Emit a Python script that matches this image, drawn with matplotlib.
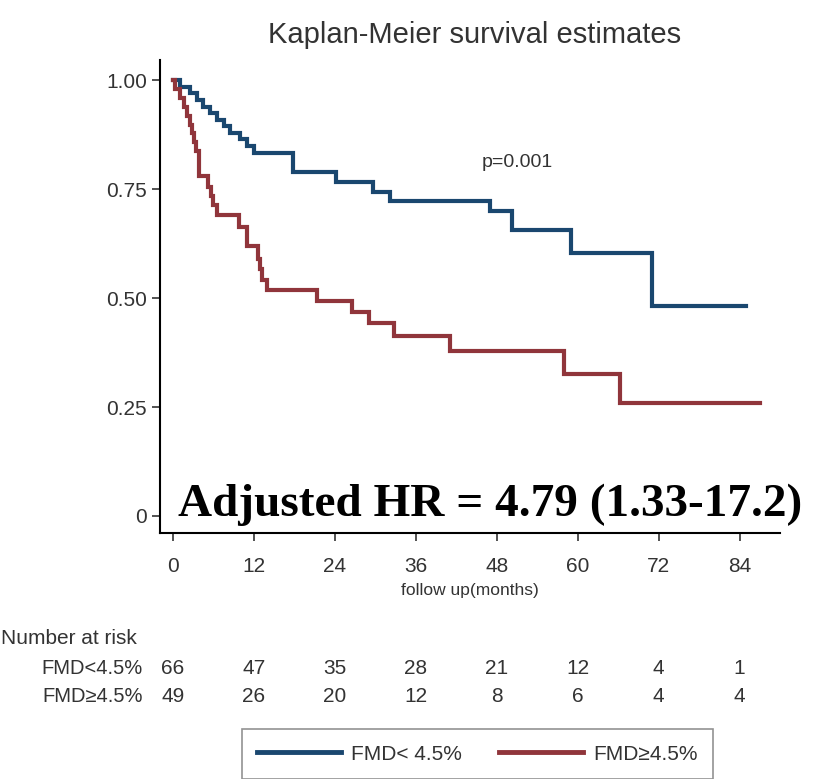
import matplotlib.pyplot as plt
from matplotlib.transforms import blended_transform_factory
from matplotlib.lines import Line2D

# KM step data (months, survival after the step)
low_t = [0, 1.0, 2.5, 3.5, 4.5, 5.5, 6.5, 7.5, 8.5, 10.0, 11.0, 12.0, 17.8, 24.2,
         29.7, 32.1, 47.0, 50.3, 59.0, 71.0, 85.0]
low_s = [1.0, 0.985, 0.97, 0.955, 0.939, 0.924, 0.909, 0.894, 0.879, 0.864, 0.848,
         0.833, 0.789, 0.767, 0.744, 0.723, 0.70, 0.656, 0.603, 0.482, 0.482]

high_t = [0, 0.3, 1.0, 1.6, 2.1, 2.5, 2.8, 3.1, 3.4, 3.8, 5.2, 5.6, 6.0, 6.5, 9.8,
          11.0, 12.6, 12.9, 13.2, 14.0, 21.3, 26.6, 29.0, 32.8, 41.0, 58.0, 66.3, 87.0]
high_s = [1.0, 0.98, 0.959, 0.939, 0.918, 0.898, 0.878, 0.857, 0.837, 0.78, 0.755,
          0.735, 0.714, 0.69, 0.662, 0.62, 0.59, 0.566, 0.541, 0.518, 0.494, 0.469,
          0.443, 0.414, 0.379, 0.326, 0.26, 0.26]

# number at risk
risk_times = [0, 12, 24, 36, 48, 60, 72, 84]
risk_low = [66, 47, 35, 28, 21, 12, 4, 1]
risk_high = [49, 26, 20, 12, 8, 6, 4, 4]

blue = '#1a476f'
red = '#90353b'
grey = '#333333'
fam = 'Liberation Sans'
fams = [fam, 'DejaVu Sans']

fig = plt.figure(figsize=(8.13, 7.79), dpi=100)
ax = fig.add_axes([160 / 813, 1 - 533 / 779, 620 / 813, 473 / 779])

ax.step(low_t, low_s, where='post', color=blue, lw=3, solid_joinstyle='miter')
ax.step(high_t, high_s, where='post', color=red, lw=3, solid_joinstyle='miter')

ax.set_xlim(-1.93, 90.0)
ax.set_ylim(-0.039, 1.046)
ax.set_xticks(risk_times)
ax.set_yticks([0, 0.25, 0.5, 0.75, 1.0])
ax.set_yticklabels(['0', '0.25', '0.50', '0.75', '1.00'])
ax.spines['top'].set_visible(False)
ax.spines['right'].set_visible(False)
ax.spines['left'].set_linewidth(1.5)
ax.spines['bottom'].set_linewidth(1.5)
ax.tick_params(labelsize=15, colors=grey, length=6, width=1.2, labelcolor=grey)
ax.tick_params(axis='x', pad=11)
for lab in ax.get_xticklabels() + ax.get_yticklabels():
    lab.set_family(fam)
ax.set_xlabel('follow up(months)', fontsize=12.5, color=grey, labelpad=5, family=fam)

ax.text(45.7, 0.812, 'p=0.001', fontsize=14, color=grey, va='center', ha='left',
        family=fam)

fig.text(475 / 813, 1 - 35 / 779, 'Kaplan-Meier survival estimates', fontsize=21,
         color=grey, ha='center', va='center', family=fam)

fig.text(178 / 813, 1 - 505 / 779, 'Adjusted HR = 4.79 (1.33-17.2)', fontsize=34,
         fontweight='bold', family='Liberation Serif', ha='left', va='center',
         color='black')

# risk table
tr = blended_transform_factory(ax.transData, fig.transFigure)
fig.text(1 / 813, 1 - 638 / 779, 'Number at risk', fontsize=15, color=grey,
         ha='left', va='center', family=fam)
fig.text(143 / 813, 1 - 668 / 779, 'FMD<4.5%', fontsize=14.5, color=grey,
         ha='right', va='center', family=fams)
fig.text(143 / 813, 1 - 697 / 779, 'FMD\u22654.5%', fontsize=14.5, color=grey,
         ha='right', va='center', family=fams)
for t, a, b in zip(risk_times, risk_low, risk_high):
    ax.text(t, 1 - 668 / 779, str(a), transform=tr, fontsize=15, color=grey,
            ha='center', va='center', family=fam)
    ax.text(t, 1 - 697 / 779, str(b), transform=tr, fontsize=15, color=grey,
            ha='center', va='center', family=fam)

handles = [Line2D([], [], color=blue, lw=3.5), Line2D([], [], color=red, lw=3.5)]
leg = fig.legend(handles, ['FMD< 4.5%', 'FMD\u22654.5%'], loc='upper center',
                 bbox_to_anchor=(477.5 / 813, 1 - 729 / 779), borderaxespad=0,
                 ncol=2, handlelength=4, handletextpad=0.5, columnspacing=1.8,
                 borderpad=0.75, frameon=True, fancybox=False, edgecolor='#777777',
                 prop={'family': fams, 'size': 15})
leg.get_frame().set_linewidth(1.2)
for txt in leg.get_texts():
    txt.set_color(grey)

fig.savefig('out.png', dpi=100)
